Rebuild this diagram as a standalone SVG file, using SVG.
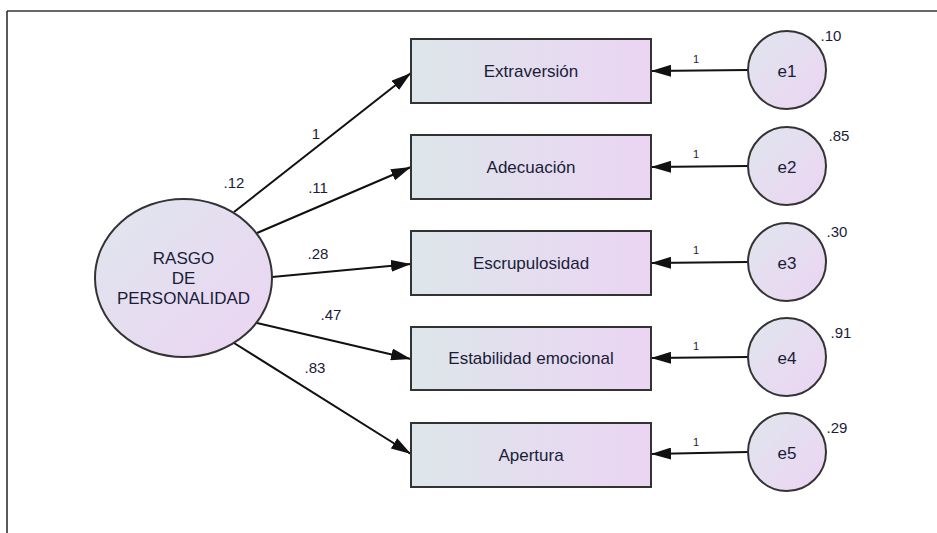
<svg xmlns="http://www.w3.org/2000/svg" width="937" height="533" viewBox="0 0 937 533">
<defs>
<linearGradient id="gBox" x1="0" y1="0" x2="1" y2="0">
<stop offset="0" stop-color="#dde6ea"/>
<stop offset="1" stop-color="#ebd5f3"/>
</linearGradient>
<linearGradient id="gCirc" x1="0" y1="0" x2="1" y2="1">
<stop offset="0" stop-color="#dfe6ee"/>
<stop offset="1" stop-color="#ecd4f2"/>
</linearGradient>
<marker id="arr" viewBox="0 0 20 12" refX="20" refY="6" markerWidth="20" markerHeight="12" markerUnits="userSpaceOnUse" orient="auto">
<path d="M0,0 L20,6 L0,12 z" fill="#111"/>
</marker>
<style>
.box{fill:url(#gBox);stroke:#333;stroke-width:2}
.circ{fill:url(#gCirc);stroke:#333;stroke-width:2}
.t{font-family:"Liberation Sans",Arial,sans-serif;font-size:17px;fill:#1a1c38;text-anchor:middle;dominant-baseline:central}
.lbl{font-family:"Liberation Sans",Arial,sans-serif;font-size:15px;fill:#1a1c38;text-anchor:middle;dominant-baseline:central}
.one{font-family:"Liberation Sans",Arial,sans-serif;font-size:11px;fill:#1a1c38;text-anchor:middle;dominant-baseline:central}
.c{stroke:#111;stroke-width:2;fill:none;marker-end:url(#arr)}
</style>
</defs>
<rect x="0" y="0" width="937" height="533" fill="#ffffff"/>
<line x1="7" y1="11" x2="937" y2="11" stroke="#666" stroke-width="2"/>
<line x1="7" y1="11" x2="7" y2="533" stroke="#222" stroke-width="1.5"/>

<g id="connectors">
<line class="c" x1="234" y1="212" x2="411" y2="73"/>
<line class="c" x1="257" y1="233" x2="411" y2="167"/>
<line class="c" x1="272" y1="277" x2="411" y2="264"/>
<line class="c" x1="257" y1="323" x2="411" y2="359"/>
<line class="c" x1="234" y1="343" x2="411" y2="454"/>
<line class="c" x1="748" y1="70" x2="651" y2="71"/>
<line class="c" x1="748" y1="166" x2="651" y2="167"/>
<line class="c" x1="748" y1="262" x2="651" y2="263"/>
<line class="c" x1="748" y1="357" x2="651" y2="358"/>
<line class="c" x1="748" y1="452" x2="651" y2="454"/>
<text class="lbl" x="316" y="133">1</text>
<text class="lbl" x="318" y="187">.11</text>
<text class="lbl" x="318" y="253">.28</text>
<text class="lbl" x="331" y="314">.47</text>
<text class="lbl" x="315" y="367">.83</text>
<text class="one" x="696" y="59">1</text>
<text class="one" x="696" y="154">1</text>
<text class="one" x="696" y="250">1</text>
<text class="one" x="696" y="346">1</text>
<text class="one" x="696" y="442">1</text>
</g>

<g id="rasgo">
<ellipse class="circ" cx="183.5" cy="278" rx="88.5" ry="79"/>
<text class="t" x="183.5" y="258">RASGO</text>
<text class="t" x="183.5" y="278">DE</text>
<text class="t" x="183.5" y="298">PERSONALIDAD</text>
<text class="lbl" x="234" y="182">.12</text>
</g>

<g id="extraversion">
<rect class="box" x="411" y="39" width="240" height="64"/>
<text class="t" x="531" y="71">Extraversión</text>
</g>
<g id="adecuacion">
<rect class="box" x="411" y="135" width="240" height="64"/>
<text class="t" x="531" y="167">Adecuación</text>
</g>
<g id="escrupulosidad">
<rect class="box" x="411" y="231" width="240" height="64"/>
<text class="t" x="531" y="263">Escrupulosidad</text>
</g>
<g id="estabilidad">
<rect class="box" x="411" y="327" width="240" height="63"/>
<text class="t" x="531" y="358">Estabilidad emocional</text>
</g>
<g id="apertura">
<rect class="box" x="411" y="423" width="240" height="64"/>
<text class="t" x="531" y="455">Apertura</text>
</g>

<g id="e1">
<circle class="circ" cx="787" cy="70" r="39"/>
<text class="t" x="787" y="71">e1</text>
<text class="lbl" x="831" y="35">.10</text>
</g>
<g id="e2">
<circle class="circ" cx="787" cy="166" r="39"/>
<text class="t" x="787" y="167">e2</text>
<text class="lbl" x="839" y="135">.85</text>
</g>
<g id="e3">
<circle class="circ" cx="787" cy="262" r="39"/>
<text class="t" x="787" y="263">e3</text>
<text class="lbl" x="837" y="231">.30</text>
</g>
<g id="e4">
<circle class="circ" cx="787" cy="357" r="39"/>
<text class="t" x="787" y="358">e4</text>
<text class="lbl" x="841" y="332">.91</text>
</g>
<g id="e5">
<circle class="circ" cx="787" cy="452" r="39"/>
<text class="t" x="787" y="453">e5</text>
<text class="lbl" x="837" y="427">.29</text>
</g>
</svg>
